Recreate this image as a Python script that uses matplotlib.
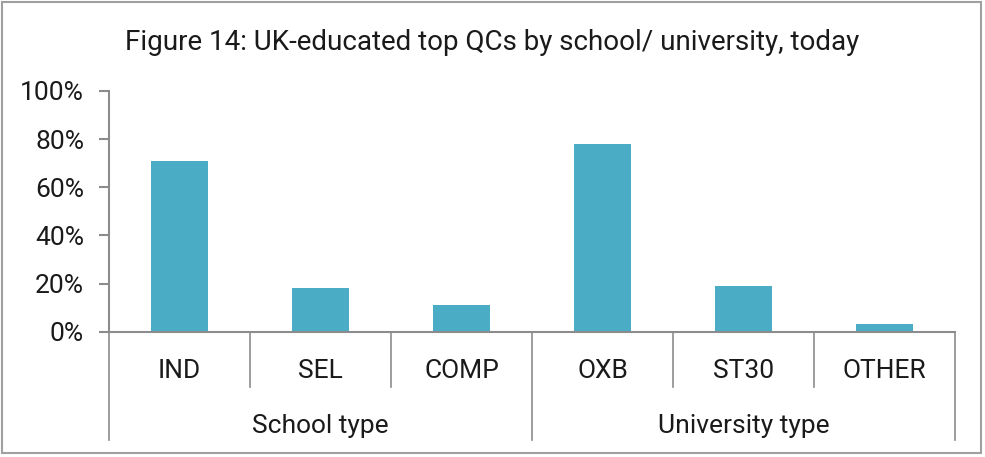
import matplotlib
matplotlib.use("Agg")
import matplotlib.pyplot as plt
import matplotlib.transforms as mtransforms
from matplotlib.patches import Rectangle

# data
categories = ['IND', 'SEL', 'COMP', 'OXB', 'ST30', 'OTHER']
groups = ['School type', 'University type']
group_sizes = [3, 3]
shares = [71, 18, 11, 78, 19, 3]
y_ticks = [0, 20, 40, 60, 80, 100]

plt.rcParams['font.family'] = ['Roboto', 'DejaVu Sans']
axis_grey = '#8c8c8c'
text_col = '#1a1a1a'

fig = plt.figure(figsize=(9.85, 4.57), dpi=100)
ax = fig.add_axes([0.1107, 0.2742, 0.8588, 0.5267])

x = list(range(len(categories)))
ax.bar(x, shares, width=0.4, color='#4BACC6', zorder=2)

ax.set_xlim(-0.5, len(categories) - 0.5)
ax.set_ylim(0, 100)
ax.set_yticks(y_ticks)
ax.set_yticklabels([f'{v}%' for v in y_ticks], fontsize=19, color=text_col)
ax.tick_params(axis='y', length=7, width=1.5, color=axis_grey, pad=11)
ax.set_xticks([])

for side in ['top', 'right']:
    ax.spines[side].set_visible(False)
for side in ['left', 'bottom']:
    ax.spines[side].set_color(axis_grey)
    ax.spines[side].set_linewidth(1.5)

# two-level category axis
trans = mtransforms.blended_transform_factory(ax.transData, ax.transAxes)
group_edges = [-0.5]
for n in group_sizes:
    group_edges.append(group_edges[-1] + n)

for i in range(len(categories) + 1):
    edge = i - 0.5
    low = -0.45 if edge in group_edges else -0.23
    ax.plot([edge, edge], [0, low], transform=trans, color=axis_grey,
            lw=1.2, clip_on=False)

for i, name in enumerate(categories):
    ax.text(i, -0.194, name, transform=trans, ha='center', va='baseline',
            fontsize=19, color=text_col)

for g, name in enumerate(groups):
    mid = (group_edges[g] + group_edges[g + 1]) / 2
    ax.text(mid, -0.42, name, transform=trans, ha='center', va='baseline',
            fontsize=19, color=text_col)

fig.text(0.5, 0.8906, 'Figure 14: UK-educated top QCs by school/ university, today',
         ha='center', va='baseline', fontsize=20, color=text_col)

# outer frame
fig.patches.append(Rectangle((0.002, 0.008), 0.994, 0.988, transform=fig.transFigure,
                             fill=False, edgecolor='#a0a0a0', lw=1.5))

fig.savefig('out.png', dpi=100)
